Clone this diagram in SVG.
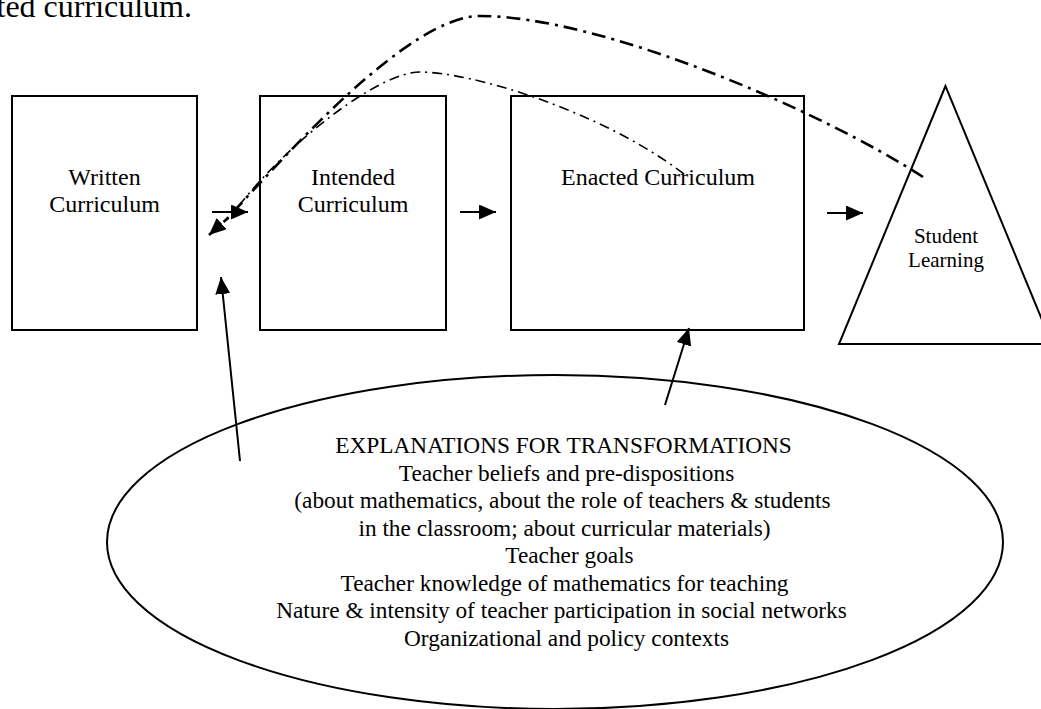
<svg xmlns="http://www.w3.org/2000/svg" width="1041" height="709" viewBox="0 0 1041 709">
<style>
  .box { fill: #fff; stroke: #000; stroke-width: 2; }
  .lbl { font-family: "Liberation Serif", "Times New Roman", serif; font-size: 24px; fill: #000; text-anchor: middle; }
  .small { font-size: 21px; }
  .ell { font-size: 23.3px; }
  .arrow { stroke: #000; stroke-width: 2; fill: none; marker-end: url(#ah); }
  .thick { stroke: #000; stroke-width: 2.6; fill: none; stroke-dasharray: 14 6 3 6; }
  .thin { stroke: #000; stroke-width: 1.6; fill: none; stroke-dasharray: 10 5 2 5; }
</style>
<defs>
  <marker id="ah" markerUnits="userSpaceOnUse" markerWidth="18" markerHeight="16" refX="17" refY="7.5" orient="auto">
    <path d="M0,0 L17,7.5 L0,15 z" fill="#000"/>
  </marker>
</defs>
<rect width="1041" height="709" fill="#fff"/>
<text class="lbl" x="192" y="17" style="font-size:32px;text-anchor:end">ted curriculum.</text>

<g id="written">
  <rect class="box" x="12" y="96" width="185" height="234"/>
  <text class="lbl" x="104.5" y="185">Written</text>
  <text class="lbl" x="104.5" y="212">Curriculum</text>
</g>
<g id="intended">
  <rect class="box" x="260" y="96" width="186" height="234"/>
  <text class="lbl" x="353" y="185">Intended</text>
  <text class="lbl" x="353" y="212">Curriculum</text>
</g>
<g id="enacted">
  <rect class="box" x="511" y="96" width="293" height="234"/>
  <text class="lbl" x="658" y="185">Enacted Curriculum</text>
</g>
<g id="student">
  <polygon class="box" points="945.5,86 839,344 1052,344"/>
  <text class="lbl small" x="946" y="243">Student</text>
  <text class="lbl small" x="946" y="267">Learning</text>
</g>
<g id="explanations">
  <ellipse cx="555" cy="542" rx="448" ry="167" fill="#fff" stroke="#000" stroke-width="2"/>
  <text class="lbl ell" x="563.5" y="453">EXPLANATIONS FOR TRANSFORMATIONS</text>
  <text class="lbl ell" x="566.5" y="481">Teacher beliefs and pre-dispositions</text>
  <text class="lbl ell" x="562.5" y="508">(about mathematics, about the role of teachers &amp; students</text>
  <text class="lbl ell" x="564.5" y="536">in the classroom; about curricular materials)</text>
  <text class="lbl ell" x="569.5" y="563">Teacher goals</text>
  <text class="lbl ell" x="564.5" y="591">Teacher knowledge of mathematics for teaching</text>
  <text class="lbl ell" x="561.5" y="618">Nature &amp; intensity of teacher participation in social networks</text>
  <text class="lbl ell" x="566.5" y="646">Organizational and policy contexts</text>
</g>

<g id="connectors">
  <line class="arrow" x1="212" y1="212" x2="248" y2="212"/>
  <line class="arrow" x1="460" y1="212" x2="496" y2="212"/>
  <line class="arrow" x1="827" y1="213" x2="863" y2="213"/>
  <line class="arrow" x1="240" y1="461" x2="221" y2="277"/>
  <line class="arrow" x1="665" y1="405" x2="689" y2="328"/>
  <path class="thick" d="M923,177 C820,110 600,16 480,16 C410,16 290,150 226,220"/>
  <path d="M228,218 L209,235" stroke="#000" stroke-width="2.6" stroke-dasharray="6 4" fill="none" marker-end="url(#ah)"/>
  <path class="thin" d="M684,174 C600,110 470,72 420,72 C380,72 290,140 238,207"/>
</g>
</svg>
